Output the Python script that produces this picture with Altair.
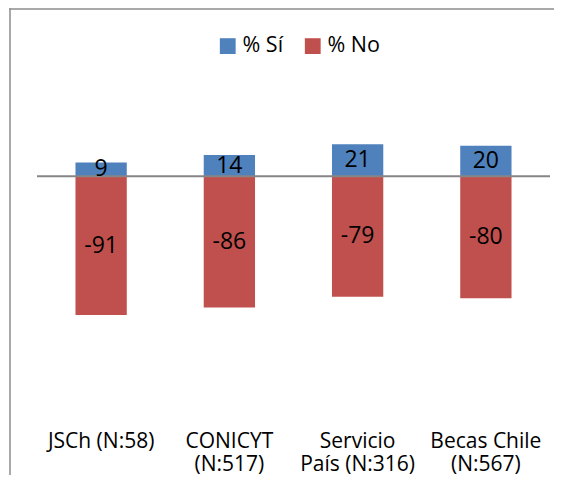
import altair as alt
import pandas as pd

categories = ["JSCh (N:58)", "CONICYT\n(N:517)", "Servicio\nPaís (N:316)", "Becas Chile\n(N:567)"]
si_values = [9, 14, 21, 20]
no_values = [-91, -86, -79, -80]
series = ["% Sí", "% No"]
colors = ["#4F81BD", "#C0504D"]

rows = []
for c, s, n in zip(categories, si_values, no_values):
    rows.append({"cat": c, "serie": series[0], "valor": s})
    rows.append({"cat": c, "serie": series[1], "valor": n})
df = pd.DataFrame(rows)

FONT = "Open Sans"

x = alt.X(
    "cat:N",
    sort=categories,
    scale=alt.Scale(paddingInner=0.6, paddingOuter=0.3),
    axis=alt.Axis(
        title=None, labelAngle=0, ticks=False, domain=False, grid=False,
        labelExpr="split(datum.label, '\\n')",
        labelFont=FONT, labelFontSize=21, labelColor="#000000",
        labelPadding=25, labelLineHeight=23, labelBaseline="top",
        labelOverlap=False, labelBound=False, labelLimit=400,
    ),
)
y_scale = alt.Scale(domain=[-150, 50])

base = alt.Chart(df)

bars = base.mark_bar().encode(
    x=x,
    y=alt.Y("valor:Q", scale=y_scale, axis=None, stack=None),
    color=alt.Color(
        "serie:N",
        scale=alt.Scale(domain=series, range=colors),
        sort=series,
        legend=alt.Legend(
            title=None, orient="none", direction="horizontal",
            legendX=180, legendY=-65,
            symbolType="square", symbolSize=250, symbolStrokeWidth=0,
            labelFont=FONT, labelFontSize=21.5, labelColor="#000000",
            columnPadding=18, symbolOffset=0, labelOffset=4,
            labelLimit=200,
        ),
    ),
)

labels = base.transform_calculate(
    mid="datum.valor / 2", txt="'' + datum.valor"
).mark_text(
    font=FONT, fontSize=23, color="#000000", baseline="middle"
).encode(
    x=alt.X("cat:N", sort=categories),
    y=alt.Y("mid:Q", scale=y_scale),
    text=alt.Text("txt:N"),
)

zero = alt.Chart(pd.DataFrame({"y": [0]})).mark_rule(
    color="#868686", strokeWidth=2
).encode(y=alt.Y("y:Q", scale=y_scale))

frame_df = pd.DataFrame({"f": [1]})
frame_left = alt.Chart(frame_df).mark_rect(
    color="#8C8C8C", clip=False, strokeWidth=0
).encode(x=alt.value(-27.75), x2=alt.value(-26.25), y=alt.value(-91.75), y2=alt.value(400))
frame_top = alt.Chart(frame_df).mark_rect(
    color="#8C8C8C", clip=False, strokeWidth=0
).encode(x=alt.value(-27.75), x2=alt.value(517), y=alt.value(-91.75), y2=alt.value(-90.25))

chart = alt.layer(frame_left, frame_top, bars, zero, labels).properties(
    width=513,
    height=305,
    padding={"left": 29, "top": 92, "right": 4, "bottom": 70},
    autosize=alt.AutoSizeParams(type="none"),
).configure_view(stroke=None)

chart.save("out.html", embed_options={"renderer": "svg", "actions": False})
